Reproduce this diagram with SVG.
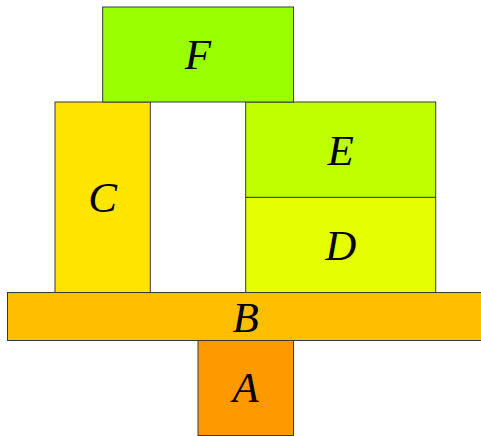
<svg xmlns="http://www.w3.org/2000/svg" width="481" height="436" viewBox="0 0 481 436">
<style>
rect{stroke:#3a3a3a;stroke-width:1}
text{font-family:"Liberation Serif","DejaVu Serif",serif;font-style:italic;font-size:43px;text-anchor:middle;fill:#000}
</style>
<rect width="481" height="436" fill="#fff" style="stroke:none"/>
<g id="connectors"></g>
<g id="A"><rect x="198" y="340.5" width="95.5" height="95" fill="#ff9900"/><text x="245.7" y="402">A</text></g>
<g id="B"><rect x="7.5" y="292.5" width="480" height="48" fill="#ffbf00"/><text x="245.7" y="331.5">B</text></g>
<g id="C"><rect x="55" y="102" width="95.3" height="190.5" fill="#ffe500"/><text x="102.7" y="212">C</text></g>
<g id="D"><rect x="245.7" y="197.3" width="190" height="95.2" fill="#e5ff00"/><text x="340.7" y="259.5">D</text></g>
<g id="E"><rect x="245.7" y="102" width="190" height="95.3" fill="#bfff00"/><text x="340.7" y="164.5">E</text></g>
<g id="F"><rect x="102.7" y="7" width="190.8" height="95" fill="#99ff00"/><text x="198" y="69">F</text></g>
</svg>
